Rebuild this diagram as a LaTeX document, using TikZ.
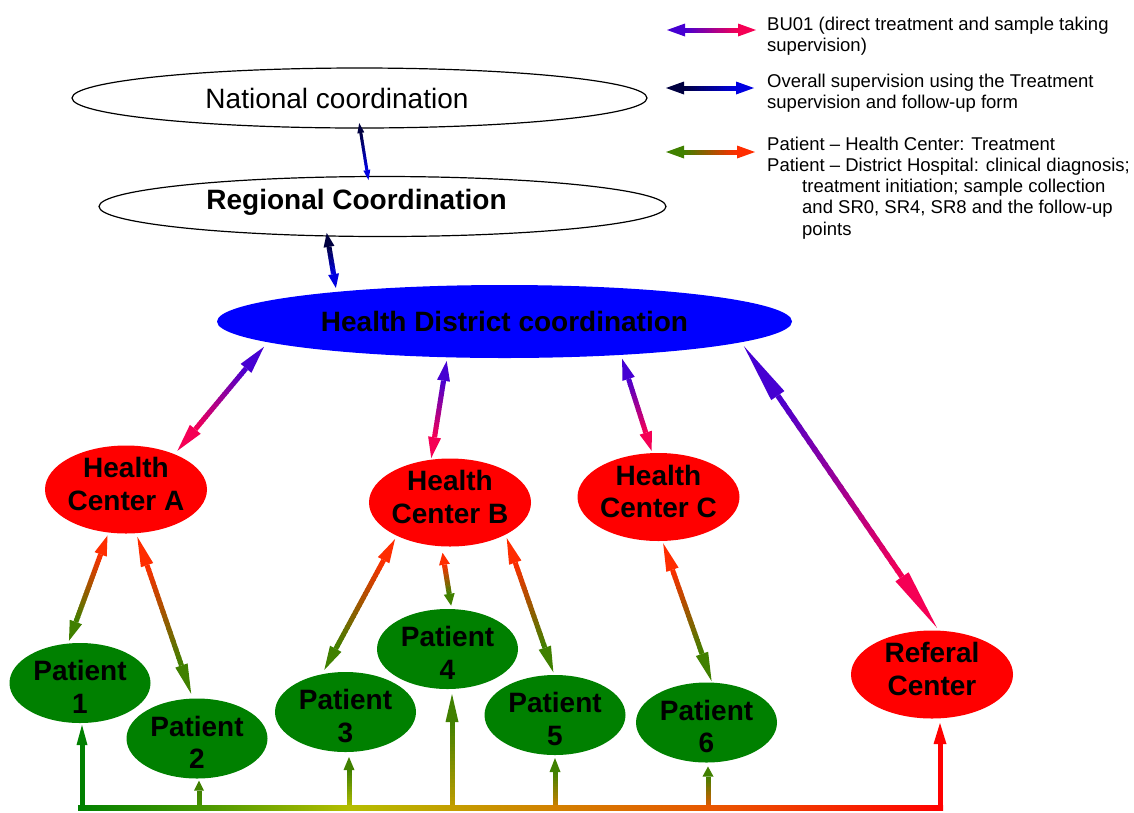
\documentclass[tikz,border=0pt]{standalone}
\usepackage{fontspec}
\setmainfont{Liberation Sans}
\usetikzlibrary{calc,shapes.geometric}

\definecolor{buA}{RGB}{70,0,210}
\definecolor{buB}{RGB}{245,0,85}
\definecolor{ovA}{RGB}{0,0,64}
\definecolor{ovB}{RGB}{0,0,225}
\definecolor{ptG}{RGB}{64,128,0}
\definecolor{ptR}{RGB}{255,45,0}
\definecolor{pgreen}{RGB}{0,128,0}
\definecolor{hred}{RGB}{255,0,0}
\definecolor{dblue}{RGB}{0,0,255}
\definecolor{barA}{RGB}{0,128,0}
\definecolor{barB}{RGB}{69,150,0}
\definecolor{barC}{RGB}{180,190,0}
\definecolor{barD}{RGB}{195,158,0}
\definecolor{barE}{RGB}{210,128,0}
\definecolor{barF}{RGB}{232,87,0}
\definecolor{barG}{RGB}{255,0,0}

\pgfdeclarehorizontalshading{barshade}{100bp}{rgb(0bp)=(0,0.502,0); rgb(25bp)=(0,0.502,0); rgb(32bp)=(0.27,0.59,0); rgb(40.6bp)=(0.706,0.745,0); rgb(50bp)=(0.8,0.55,0); rgb(62.5bp)=(0.92,0.32,0); rgb(75bp)=(1,0,0); rgb(100bp)=(1,0,0)}

\pgfkeys{
  /ga/lw/.store in=\galw,
  /ga/ha/.store in=\gaha,
  /ga/hb/.store in=\gahb,
  /ga/hw/.store in=\gahw,
  /ga/sa/.store in=\gasa,
  /ga/sb/.store in=\gasb,
  /ga/reset/.style={lw=5pt,ha=20pt,hb=20pt,hw=13pt,sa=0pt,sb=0pt},
}

% gradient arrow from #2 (colour #4) to #3 (colour #5)
\newcommand\gradarrow[5][]{%
  \pgfkeys{/ga/.cd,reset,#1}%
  \coordinate (gaTA) at ($(#2)!\gasa!(#3)$);
  \coordinate (gaTB) at ($(#3)!\gasb!(#2)$);
  \coordinate (gaBA) at ($(gaTA)!\gaha!(gaTB)$);
  \coordinate (gaBB) at ($(gaTB)!\gahb!(gaTA)$);
  \foreach \i in {0,...,23}{%
    \pgfmathsetmacro\gta{\i/24}%
    \pgfmathsetmacro\gtb{min(1,(\i+1.3)/24)}%
    \pgfmathtruncatemacro\gpc{100-(\i+0.5)*100/24}%
    \draw[line width=\galw, color=#4!\gpc!#5] ($(gaBA)!\gta!(gaBB)$) -- ($(gaBA)!\gtb!(gaBB)$);
  }%
  \ifdim\gaha>0pt
    \fill[#4] (gaTA) -- ($(gaBA)!0.5*\gahw!90:(gaTA)$) -- ($(gaBA)!0.5*\gahw!-90:(gaTA)$) -- cycle;
  \fi
  \ifdim\gahb>0pt
    \fill[#5] (gaTB) -- ($(gaBB)!0.5*\gahw!90:(gaTB)$) -- ($(gaBB)!0.5*\gahw!-90:(gaTB)$) -- cycle;
  \fi
}

\newcommand\bigbold{\bfseries\fontsize{28}{32.5}\selectfont}

\tikzset{
  ell/.style={ellipse, inner sep=-15pt, outer sep=0pt},
  topell/.style={ell, draw=black, line width=1.2pt, fill=white},
  hc/.style={ell, fill=hred, minimum width=162pt, minimum height=88pt, font=\bigbold, align=center},
  pat/.style={ell, fill=pgreen, minimum width=141pt, minimum height=80pt, font=\bigbold, align=center},
  legend/.style={anchor=base west, inner sep=0pt, font=\fontsize{18.5}{21.3}\selectfont},
}

\begin{document}
\begin{tikzpicture}[x=1pt,y=-1pt]
\useasboundingbox (0,0) rectangle (1134,812);

% top coordination levels
\node[topell, minimum width=575pt, minimum height=60pt, font=\fontsize{28}{32}\selectfont] (nat) at (359.5,98) {National coordination\hspace*{45pt}};
\node[topell, minimum width=567pt, minimum height=60pt, font=\bigbold, text depth=15pt] (reg) at (382.5,206.5) {Regional Coordination\hspace*{52pt}};
\node[ell, fill=dblue, minimum width=575pt, minimum height=73pt, font=\bigbold] (dist) at (504.5,321.5) {Health District coordination};

% health centers
\node[hc] (hca) at (126,489.5) {Health\\Center A\rule[-11pt]{0pt}{11pt}};
\node[hc] (hcb) at (450,502.5) {Health\\Center B\rule[-11pt]{0pt}{11pt}};
\node[hc] (hcc) at (658.5,497) {Health\\Center C\rule[-11pt]{0pt}{11pt}};
\node[hc] (ref) at (932,674.5) {Referal\\Center\rule[-11pt]{0pt}{11pt}};

% patients
\node[pat] (p1) at (80,683) {\rule{0pt}{28pt}Patient\\1};
\node[pat] (p2) at (197,738.5) {\rule{0pt}{28pt}Patient\\2};
\node[pat] (p3) at (345.5,712) {\rule{0pt}{28pt}Patient\\3};
\node[pat] (p4) at (447.5,649) {\rule{0pt}{28pt}Patient\\4};
\node[pat] (p5) at (555,715) {\rule{0pt}{28pt}Patient\\5};
\node[pat] (p6) at (706.5,722.5) {\rule{0pt}{28pt}Patient\\6};

% supervision arrows
\gradarrow[lw=3pt,ha=10pt,hb=10pt,hw=7pt,sa=-5pt,sb=-3.5pt]{nat.-89}{reg.116}{ovA}{ovB}
\gradarrow[ha=14pt,hb=14pt,hw=11pt,sa=-3pt,sb=4pt]{reg.-152}{dist.170}{ovA}{ovB}

% BU01 arrows
\gradarrow[ha=28pt,hb=28pt,hw=14pt,sa=6pt,sb=4.5pt]{dist.-175}{hca.36}{buA}{buB}
\gradarrow[ha=20pt,hb=21pt,hw=13pt,sa=3.7pt,sb=1.7pt]{dist.-148}{hcb.114}{buA}{buB}
\gradarrow[ha=21pt,hb=19pt,hw=13pt,sa=4.2pt,sb=2.5pt]{dist.-16}{hcc.98}{buA}{buB}
\gradarrow[lw=5.5pt,ha=60pt,hb=62pt,hw=16pt,sa=4.7pt,sb=3.3pt]{dist.-5}{ref.81}{buA}{buB}

% patient - health center arrows
\gradarrow[ha=20pt,hb=20pt,sa=3.3pt,sb=3pt]{hca.-112}{p1.107}{ptR}{ptG}
\gradarrow[ha=30pt,hb=30pt,sa=3.8pt,sb=5pt]{hca.-77}{p2.96}{ptR}{ptG}
\gradarrow[ha=24pt,hb=24pt,sa=3.8pt,sb=5pt]{hcb.-148}{p3.122}{ptR}{ptG}
\gradarrow[ha=12pt,hb=12pt,hw=11pt,sa=6.6pt,sb=3.4pt]{hcb.-101}{p4.84}{ptR}{ptG}
\gradarrow[ha=26pt,hb=26pt,sa=3.7pt,sb=2.9pt]{hcb.-30}{p5.91}{ptR}{ptG}
\gradarrow[ha=28pt,hb=29pt,sa=2.5pt,sb=1.5pt]{hcc.-85}{p6.82}{ptR}{ptG}

% bottom bar and arrows to patients / referal center
\coordinate (barL) at (78,808);
\coordinate (barR) at (943,808);
\coordinate (b1) at (82,808);  \coordinate (t1) at (b1 |- p1.south);
\coordinate (b2) at (199,808); \coordinate (t2) at (b2 |- p2.south);
\coordinate (b3) at (349,808); \coordinate (t3) at (b3 |- p3.south);
\coordinate (b4) at (452,808); \coordinate (t4) at (b4 |- p4.south);
\coordinate (b5) at (555,808); \coordinate (t5) at (b5 |- p5.south);
\coordinate (b6) at (708,808); \coordinate (t6) at (b6 |- p6.south);
\coordinate (b7) at (940,808); \coordinate (t7) at (b7 |- ref.south);
\gradarrow[ha=0pt,hb=20pt,hw=11pt,sb=2pt]{b1}{t1}{barA}{pgreen}
\gradarrow[ha=0pt,hb=10pt,hw=10pt,sb=2pt]{b2}{t2}{barB}{ptG}
\gradarrow[ha=0pt,hb=13pt,hw=11pt,sb=5pt]{b3}{t3}{barC}{ptG}
\gradarrow[ha=0pt,hb=28pt,hw=13pt,sb=5pt]{b4}{t4}{barD}{ptG}
\gradarrow[ha=0pt,hb=14pt,hw=11pt,sb=3pt]{b5}{t5}{barE}{ptG}
\gradarrow[ha=0pt,hb=10pt,hw=11pt,sb=4pt]{b6}{t6}{barF}{ptG}
\gradarrow[ha=0pt,hb=21pt,hw=13pt,sb=4.5pt]{b7}{t7}{barG}{hred}
\shade[shading=barshade] ($(barL)+(0,-2.6)$) rectangle ($(barR)+(0,2.6)$);

% legend
\coordinate (l1a) at (667,30);  \coordinate (l1b) at (756,30);
\coordinate (l2a) at (666,88);  \coordinate (l2b) at (754,88);
\coordinate (l3a) at (666,152); \coordinate (l3b) at (755,152);
\gradarrow[ha=18pt,hb=18pt]{l1a}{l1b}{buA}{buB}
\gradarrow[ha=18pt,hb=18pt]{l2a}{l2b}{ovA}{ovB}
\gradarrow[ha=18pt,hb=18pt]{l3a}{l3b}{ptG}{ptR}
\node[legend] (lt1) at (767,30) {\begin{tabular}[t]{@{}l@{}}BU01 (direct treatment and sample taking\\supervision)\end{tabular}};
\node[legend] (lt2) at (767,87.3) {\begin{tabular}[t]{@{}l@{}}Overall supervision using the Treatment\\supervision and follow-up form\end{tabular}};
\node[legend] (lt3) at (767,150) {\begin{tabular}[t]{@{}l@{}}Patient – Health Center: Treatment\\Patient – District Hospital: clinical diagnosis;\\\hspace*{35pt}treatment initiation; sample collection\\\hspace*{35pt}and SR0, SR4, SR8 and the follow-up\\\hspace*{35pt}points\end{tabular}};
\end{tikzpicture}
\end{document}
